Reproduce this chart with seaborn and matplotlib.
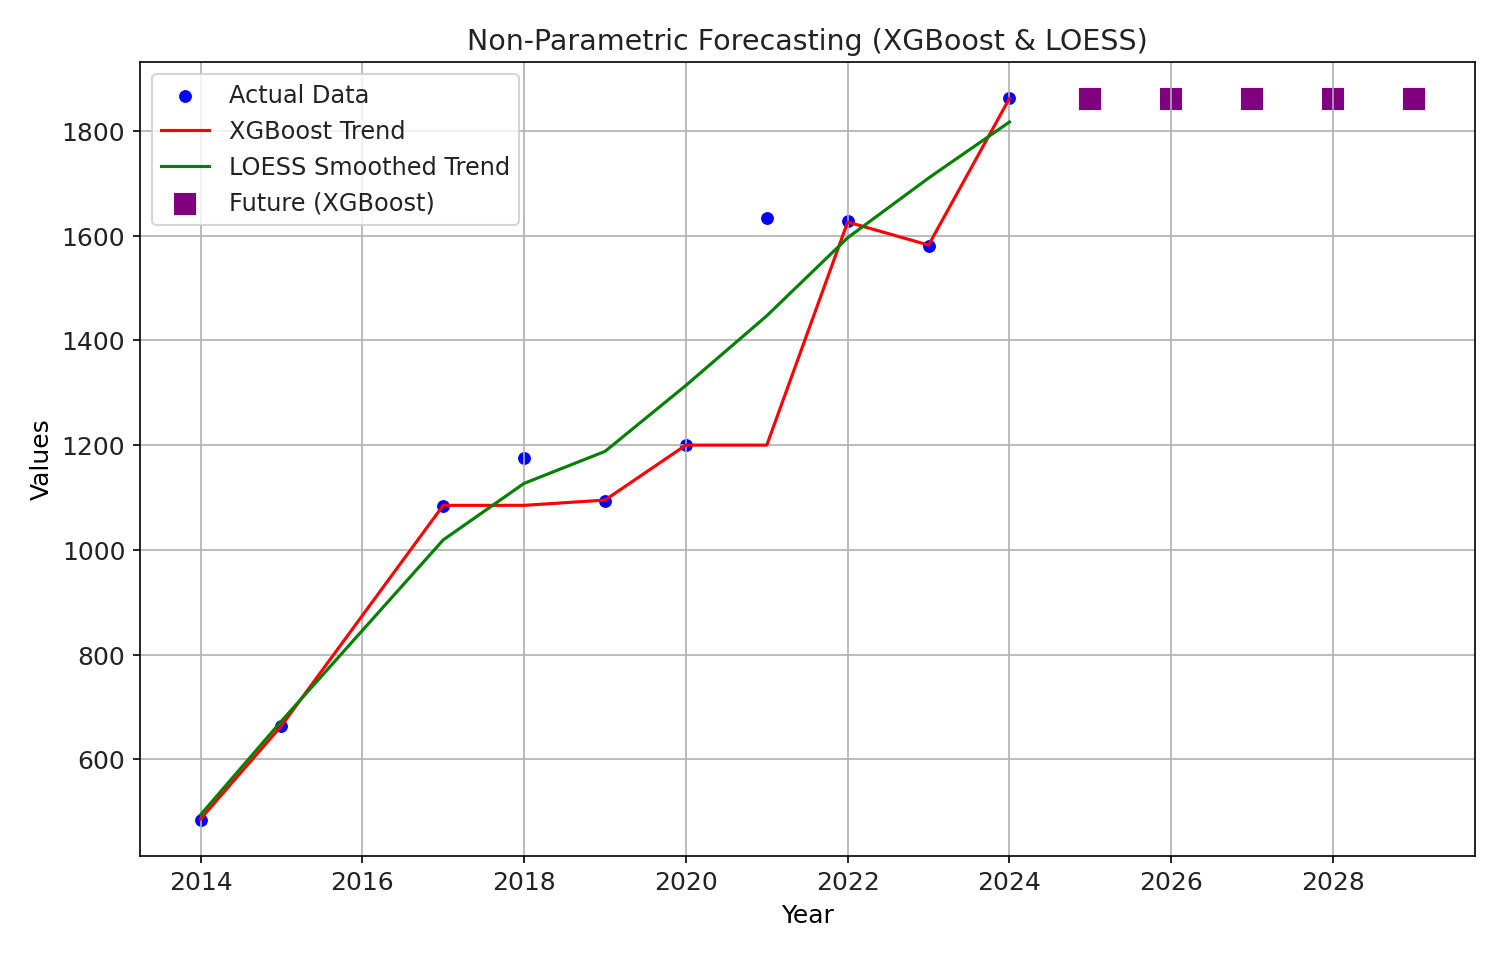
import numpy as np
import pandas as pd
import matplotlib
matplotlib.use("Agg")
import matplotlib.pyplot as plt
import seaborn as sns

# values
years = [2014, 2015, 2017, 2018, 2019, 2020, 2021, 2022, 2023, 2024]
actual = [484, 664, 1084, 1176, 1093, 1200, 1634, 1628, 1581, 1863]
xgb_trend = [486, 664, 1085, 1085, 1095, 1200, 1200, 1626, 1582, 1862]
loess_trend = [494, 673, 1019, 1127, 1188, 1314, 1447, 1596, 1710, 1817]
future_years = [2025, 2026, 2027, 2028, 2029]
future_pred = [1861, 1861, 1861, 1861, 1861]

df = pd.DataFrame({'year': years, 'actual': actual, 'xgb': xgb_trend, 'loess': loess_trend})
future_df = pd.DataFrame({'year': future_years, 'pred': future_pred})

plt.rcParams['font.size'] = 12
plt.rcParams['text.color'] = '#222222'
plt.rcParams['xtick.labelcolor'] = '#222222'
plt.rcParams['ytick.labelcolor'] = '#222222'

plt.figure(figsize=(9.92, 6.49), dpi=150)
sns.scatterplot(data=df, x='year', y='actual', color='blue', s=45, label='Actual Data')
sns.lineplot(data=df, x='year', y='xgb', color='red', label='XGBoost Trend')
sns.lineplot(data=df, x='year', y='loess', color='green', label='LOESS Smoothed Trend')
sns.scatterplot(data=future_df, x='year', y='pred', color='purple', marker='s', s=130,
                label='Future (XGBoost)')
plt.xlabel('Year')
plt.ylabel('Values')
plt.title('Non-Parametric Forecasting (XGBoost & LOESS)', fontsize=13.7)
plt.legend(loc='upper left', fontsize=11.5)
plt.grid(True)
plt.subplots_adjust(left=0.094, right=0.991, top=0.936, bottom=0.120)
plt.savefig("out.png", dpi=150)
